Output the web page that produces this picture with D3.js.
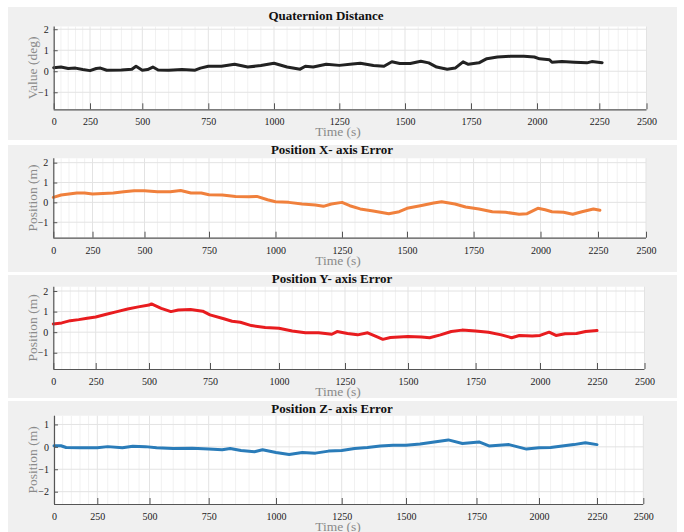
<!DOCTYPE html>
<html><head><meta charset="utf-8">
<script src="https://cdn.jsdelivr.net/npm/d3@7"></script>
<style>html,body{margin:0;padding:0;background:#fff;}svg{display:block;}</style>
</head><body>
<svg id="c" width="684" height="532"></svg>
<script>
// ---------- data ----------
const xTicks = [0,250,500,750,1000,1250,1500,1750,2000,2250,2500];
const titles = ["Quaternion Distance","Position X- axis Error","Position Y- axis Error","Position Z- axis Error"];
const yLabels = ["Value (deg)","Position (m)","Position (m)","Position (m)"];
const xLabel = "Time (s)";
const yTicksA = [-1,0,1,2];
const yTicksB = [-2,-1,0,1];

const quatTime = [0,50,100,150,200,250,280,300,330,400,450,470,500,520,540,560,600,650,700,720,750,800,850,900,950,1000,1050,1100,1120,1150,1200,1250,1300,1330,1380,1420,1450,1480,1520,1560,1590,1620,1660,1690,1720,1740,1780,1810,1850,1900,1950,1990,2010,2050,2060,2100,2150,2200,2220,2265];
const quatVal  = [0.17,0.2,0.13,0.15,0.08,0.03,0.13,0.15,0.05,0.06,0.1,0.24,0.05,0.08,0.2,0.06,0.05,0.08,0.05,0.15,0.24,0.24,0.33,0.2,0.27,0.38,0.2,0.1,0.24,0.2,0.33,0.28,0.35,0.38,0.27,0.24,0.45,0.37,0.37,0.48,0.4,0.2,0.1,0.15,0.45,0.33,0.4,0.6,0.68,0.71,0.71,0.68,0.59,0.55,0.43,0.46,0.43,0.4,0.46,0.41];

const xErrTime = [0,50,100,150,200,250,300,350,400,450,500,550,600,640,680,720,750,800,850,900,930,970,1000,1050,1100,1150,1180,1210,1250,1280,1320,1370,1430,1470,1500,1550,1600,1630,1680,1720,1770,1820,1870,1920,1950,1990,2020,2050,2100,2140,2180,2230,2260];
const xErrVal  = [0.25,0.37,0.42,0.47,0.47,0.42,0.45,0.47,0.53,0.58,0.58,0.53,0.53,0.6,0.47,0.47,0.38,0.37,0.3,0.28,0.3,0.13,0.03,0.0,-0.08,-0.13,-0.2,-0.08,0.0,-0.17,-0.33,-0.43,-0.57,-0.47,-0.3,-0.17,-0.03,0.03,-0.08,-0.23,-0.33,-0.47,-0.5,-0.6,-0.57,-0.3,-0.37,-0.47,-0.5,-0.6,-0.47,-0.33,-0.4];

const yErrTime = [0,50,100,150,200,250,300,350,400,450,500,510,550,590,620,670,720,750,800,830,860,900,950,1000,1050,1100,1150,1200,1220,1260,1300,1340,1380,1400,1430,1500,1550,1580,1620,1660,1700,1750,1800,1850,1890,1920,1970,2000,2040,2070,2110,2160,2200,2250];
const yErrVal  = [0.4,0.45,0.56,0.61,0.68,0.74,0.87,1.0,1.13,1.23,1.32,1.37,1.16,1.0,1.08,1.1,1.02,0.84,0.65,0.53,0.48,0.32,0.23,0.19,0.06,-0.03,-0.03,-0.1,0.03,-0.06,-0.13,-0.03,-0.24,-0.35,-0.26,-0.21,-0.23,-0.27,-0.13,0.03,0.1,0.06,0.0,-0.13,-0.27,-0.16,-0.19,-0.16,0.0,-0.16,-0.08,-0.06,0.03,0.08];

const zErrTime = [0,40,70,150,250,300,370,420,480,530,600,680,750,800,830,870,920,950,1000,1050,1100,1150,1200,1250,1300,1350,1400,1450,1500,1550,1600,1650,1700,1760,1800,1880,1950,2000,2050,2100,2150,2200,2250];
const zErrVal  = [0.05,0.05,-0.03,-0.04,-0.04,0.01,-0.04,0.03,0.01,-0.04,-0.07,-0.06,-0.1,-0.13,-0.07,-0.16,-0.22,-0.13,-0.25,-0.34,-0.25,-0.28,-0.19,-0.16,-0.07,-0.03,0.04,0.07,0.07,0.13,0.22,0.31,0.15,0.22,0.04,0.1,-0.1,-0.04,-0.03,0.04,0.1,0.18,0.1];

// ---------- layout ----------
const svg = d3.select("#c");
const panels = [
  {t:quatTime, v:quatVal, color:"#222222", yDom:[-1.81,2.13], yRange:[109.3,26.5], yTicks:yTicksA,
   xRange:[53.7,90,142.3,208.3,274,339.3,405,471,537,599.3,646.5], bg:[7,140], titleX:326, titleY:20},
  {t:xErrTime, v:xErrVal, color:"#f0803c", yDom:[-1.78,2.22], yRange:[237.7,158.3], yTicks:yTicksA,
   xRange:[53.3,92.5,144.5,209,275.5,342,407,473.6,540.5,598,646], bg:[145,272], titleX:332, titleY:154},
  {t:yErrTime, v:yErrVal, color:"#e81c1f", yDom:[-1.79,2.21], yRange:[369,286.7], yTicks:yTicksA,
   xRange:[53.3,95.7,149,210,279,345,408,475.6,540,597,644.5], bg:[275,398], titleX:332, titleY:283},
  {t:zErrTime, v:zErrVal, color:"#2a7cb9", yDom:[-2.55,1.39], yRange:[504,415.7], yTicks:yTicksB,
   xRange:[54,97.3,149.5,208.7,276,341.7,406,476.5,539,597,643.3], bg:[401,532], titleX:332, titleY:413}
];

const serif = "'Liberation Serif','Times New Roman',serif";

panels.forEach((p,i)=>{
  const g = svg.append("g");
  const x = d3.scaleLinear().domain(xTicks).range(p.xRange);
  const y = d3.scaleLinear().domain(p.yDom).range(p.yRange);
  const x0 = p.xRange[0], x1 = p.xRange[p.xRange.length-1];
  const yb = p.yRange[0], yt = p.yRange[1];

  g.append("rect").attr("x",8).attr("y",p.bg[0]).attr("width",669).attr("height",p.bg[1]-p.bg[0]).attr("fill","#f0f0f0");
  g.append("rect").attr("x",x0).attr("y",yt).attr("width",x1-x0).attr("height",yb-yt).attr("fill","#ffffff");

  const minor = d3.range(0,2501,50).filter(d=>d%250!==0);
  g.selectAll(".mv").data(minor).enter().append("line")
    .attr("x1",d=>x(d)).attr("x2",d=>x(d)).attr("y1",yt).attr("y2",yb)
    .attr("stroke","#f1f1f1").attr("stroke-width",1);
  g.selectAll(".gv").data(xTicks).enter().append("line")
    .attr("x1",d=>x(d)).attr("x2",d=>x(d)).attr("y1",yt).attr("y2",yb)
    .attr("stroke","#e3e3e3").attr("stroke-width",1);
  g.selectAll(".gh").data(p.yTicks).enter().append("line")
    .attr("x1",x0).attr("x2",x1).attr("y1",d=>y(d)).attr("y2",d=>y(d))
    .attr("stroke","#e3e3e3").attr("stroke-width",1);

  const pts = p.t.map((t,k)=>[t,p.v[k]]);
  g.append("path").datum(pts)
    .attr("fill","none").attr("stroke",p.color).attr("stroke-width",3)
    .attr("stroke-linejoin","round").attr("stroke-linecap","round")
    .attr("d", d3.line().x(d=>x(d[0])).y(d=>y(d[1])));

  const xa = g.append("g").attr("transform",`translate(0,${yb})`)
    .call(d3.axisBottom(x).tickValues(xTicks).tickSize(-6).tickPadding(9).tickFormat(d3.format("d")));
  const ya = g.append("g").attr("transform",`translate(${x0},0)`)
    .call(d3.axisLeft(y).tickValues(p.yTicks).tickSize(-4).tickPadding(5).tickFormat(d3.format("d")));
  [xa,ya].forEach(a=>{
    a.select(".domain").attr("stroke","#555").attr("stroke-width",1.2);
    a.selectAll(".tick line").attr("stroke","#555");
    a.selectAll("text").attr("font-family",serif).attr("font-size",10).attr("fill","#222");
  });
  ya.select(".domain").attr("d",`M0.5,${yt}V${yb}`);
  xa.select(".domain").attr("d",`M${x0},0.5H${x1}`);

  g.append("text").attr("x",p.titleX).attr("y",p.titleY).attr("text-anchor","middle")
    .attr("font-family",serif).attr("font-weight","bold").attr("font-size",13).attr("fill","#111")
    .text(titles[i]);
  g.append("text").attr("transform",`translate(37,${(yt+yb)/2}) rotate(-90)`).attr("text-anchor","middle")
    .attr("font-family",serif).attr("font-size",13.5).attr("fill","#8a8a8a").text(yLabels[i]);
  g.append("text").attr("x",338).attr("y",yb+27).attr("text-anchor","middle")
    .attr("font-family",serif).attr("font-size",13.5).attr("fill","#8a8a8a").text(xLabel);
});
</script>
</body></html>
